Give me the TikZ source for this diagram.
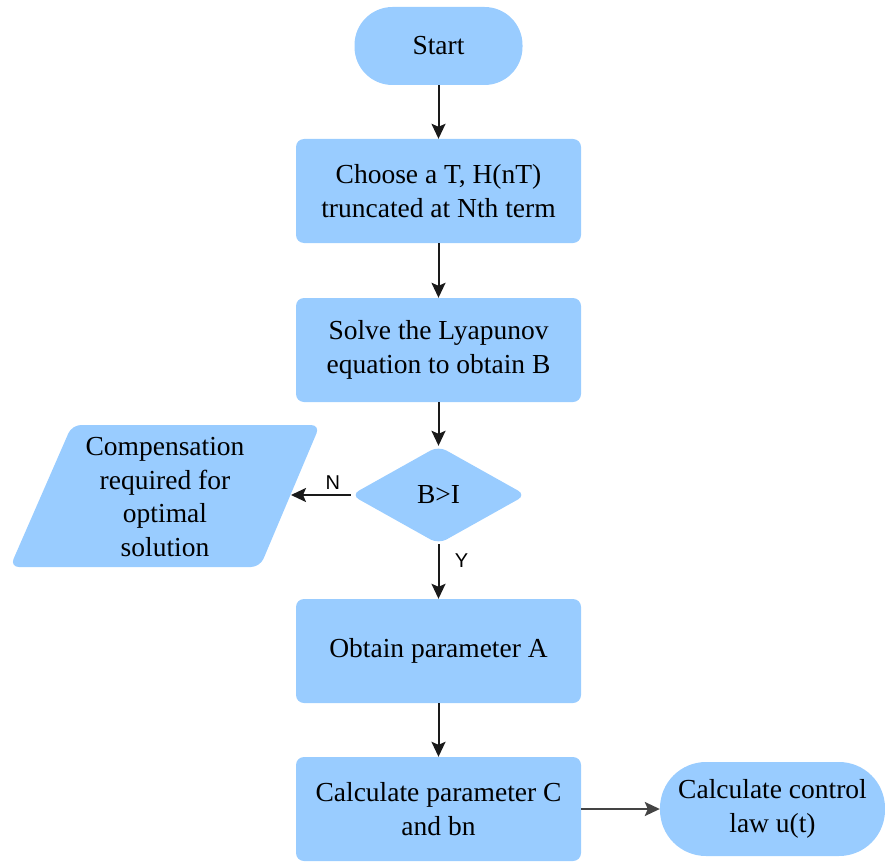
\documentclass[tikz,border=0pt]{standalone}
\usepackage{fontspec}
\setmainfont{Liberation Serif}
\newfontfamily\boxfont{Liberation Serif}
\newfontfamily\labelfont{Liberation Sans}
\usetikzlibrary{arrows.meta,shapes.geometric}
\definecolor{boxblue}{HTML}{99CCFF}
\definecolor{linedark}{HTML}{1A1A1A}
\definecolor{linegrey}{HTML}{444444}
\tikzset{
  every node/.style={font=\boxfont\fontsize{27.5}{33.5}\selectfont},
  stepbox/.style={fill=boxblue, rounded corners=8pt, minimum width=285pt,
    minimum height=104pt, align=center, inner sep=0pt},
  terminal/.style={fill=boxblue, rounded corners=38pt, align=center, inner sep=0pt},
  decision/.style={diamond, fill=boxblue, rounded corners=9pt, minimum width=175pt,
    minimum height=98pt, aspect=1.79, inner sep=0pt},
  flow/.style={draw=linedark, line width=2pt,
    -{Stealth[length=15pt,width=14pt,inset=3pt]}},
  branch/.style={font=\labelfont\fontsize{20}{22}\selectfont},
}
\begin{document}
\begin{tikzpicture}[x=1pt,y=-1pt]
\useasboundingbox (0,0) rectangle (885,861);

% process nodes
\node[terminal, minimum width=168pt, minimum height=78pt] (start) at (438.5,46) {Start};
\node[stepbox] (choose) at (438.5,191) {Choose a T, H(nT)\\truncated at Nth term};
\node[stepbox] (solve) at (438.5,350) {Solve the Lyapunov\\equation to obtain B};
\node[decision] (test) at (438.5,495) {B>I};
\node[stepbox] (obtain) at (438.5,651) {Obtain parameter A};
\node[stepbox] (calc) at (438.5,809) {Calculate parameter C\\and bn};
\node[terminal, minimum width=225pt, minimum height=94pt, rounded corners=46pt] (law) at (772.5,809) {Calculate control\\law u(t)};

% slanted output box
\fill[boxblue, rounded corners=9pt] (72,425) -- (320,425) -- (260,567) -- (10,567) -- cycle;
\node[align=center] (comp) at (165,497) {Compensation\\required for\\optimal\\solution};
\coordinate (compedge) at (291,495);

% connectors
\draw[flow] (start) -- (choose);
\draw[flow] (choose) -- (solve);
\draw[flow] (solve) -- (test);
\draw[flow] (test) -- node[branch, right, pos=0.3, xshift=12pt] (ylab) {Y} (obtain);
\draw[flow] (test.west) -- node[branch, above, pos=0.3, yshift=1pt] (nlab) {N} (compedge);
\draw[flow] (obtain) -- (calc);
\draw[flow, draw=linegrey] (calc) -- (law);
\end{tikzpicture}
\end{document}
